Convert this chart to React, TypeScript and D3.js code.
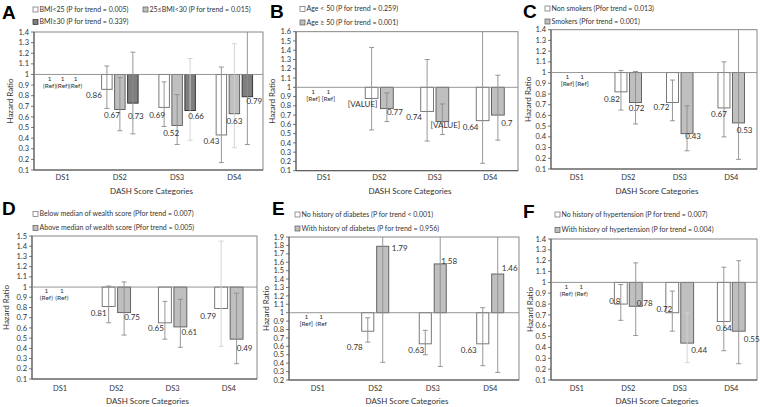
import React, { useEffect } from 'react';
import * as d3 from 'd3';

const categories = ['DS1', 'DS2', 'DS3', 'DS4'];

// ---- Panel A
const aNames = ['BMI<25 (P for trend = 0.005)', '25≤BMI<30 (P for trend = 0.015)', 'BMI≥30 (P for trend = 0.339)'];
const aHR = [[1, 0.86, 0.69, 0.43], [1, 0.67, 0.52, 0.63], [1, 0.73, 0.66, 0.79]];
const aLow = [[1, 0.68, 0.51, 0.17], [1, 0.47, 0.34, 0.31], [1, 0.44, 0.38, 0.34]];
const aHigh = [[1, 1.08, 0.93, 1.07], [1, 0.97, 0.81, 1.29], [1, 1.21, 1.15, 1.84]];
const aText = [['', '0.86', '0.69', '0.43'], ['', '0.67', '0.52', '0.63'], ['', '0.73', '0.66', '0.79']];

// ---- Panel B
const bNames = ['Age < 50 (P for trend = 0.259)', 'Age ≥ 50 (P for trend = 0.001)'];
const bHR = [[1, 0.88, 0.74, 0.64], [1, 0.77, 0.63, 0.7]];
const bLow = [[1, 0.54, 0.42, 0.18], [1, 0.63, 0.49, 0.43]];
const bHigh = [[1, 1.43, 1.3, 2.28], [1, 0.94, 0.82, 1.13]];
const bText = [['', '[VALUE]', '0.74', '0.64'], ['', '0.77', '[VALUE]', '0.7']];

// ---- Panel C
const cNames = ['Non smokers (Pfor trend = 0.013)', 'Smokers (Pfor trend = 0.001)'];
const cHR = [[1, 0.82, 0.72, 0.67], [1, 0.72, 0.43, 0.53]];
const cLow = [[1, 0.65, 0.55, 0.4], [1, 0.52, 0.27, 0.19]];
const cHigh = [[1, 1.02, 0.93, 1.1], [1, 1.01, 0.69, 1.48]];
const cText = [['', '0.82', '0.72', '0.67'], ['', '0.72', '0.43', '0.53']];

// ---- Panel D
const dNames = ['Below median of wealth score (Pfor trend = 0.007)', 'Above median of wealth score (Pfor trend = 0.005)'];
const dHR = [[1, 0.81, 0.65, 0.79], [1, 0.75, 0.61, 0.49]];
const dLow = [[1, 0.65, 0.49, 0.42], [1, 0.53, 0.41, 0.25]];
const dHigh = [[1, 1.01, 0.86, 1.45], [1, 1.05, 0.88, 0.94]];
const dText = [['', '0.81', '0.65', '0.79'], ['', '0.75', '0.61', '0.49']];

// ---- Panel E
const eNames = ['No history of diabetes (P for trend < 0.001)', 'With history of diabetes (P for trend = 0.956)'];
const eHR = [[1, 0.78, 0.63, 0.63], [1, 1.79, 1.58, 1.46]];
const eLow = [[1, 0.65, 0.5, 0.37], [1, 0.41, 0.36, 0.29]];
const eHigh = [[1, 0.94, 0.79, 1.06], [1, 7.8, 6.9, 7.3]];
const eText = [['', '0.78', '0.63', '0.63'], ['', '1.79', '1.58', '1.46']];

// ---- Panel F
const fNames = ['No history of hypertension (P for trend = 0.007)', 'With history of hypertension (P for trend = 0.004)'];
const fHR = [[1, 0.8, 0.72, 0.64], [1, 0.78, 0.44, 0.55]];
const fLow = [[1, 0.65, 0.55, 0.37], [1, 0.51, 0.26, 0.25]];
const fHigh = [[1, 0.98, 0.92, 1.14], [1, 1.18, 0.72, 1.2]];
const fText = [['', '0.8', '0.72', '0.64'], ['', '0.78', '0.44', '0.55']];

const FONT = 'Lato, "Open Sans", "DejaVu Sans", sans-serif';
const FILLS = ['#ffffff', '#bfbfbf', '#7f7f7f'];
const STROKES = ['#6b6b6b', '#595959', '#2b2b2b'];

type P = {
  letter: string; letterXY: [number, number];
  box: [number, number, number, number];
  domain: [number, number];
  names: string[]; legendXY: [number, number][];
  hr: number[][]; low: number[][]; high: number[][]; text: string[][];
  refs: string[]; barFrac: number; gapFrac: number;
  shift: [number, number][][]; // label offsets (dx from bar centre, dy from bar end)
  lightErr: string[]; // "series-cat"
  yTitleX: number; catY: number; titleY: number; refDx: number;
};

const panels: P[] = [
  {
    letter: 'A', letterXY: [2, 19], box: [34, 263, 32, 170], domain: [0.1, 1.4],
    names: aNames, legendXY: [[33, 9.5], [143, 9.5], [33, 22]],
    hr: aHR, low: aLow, high: aHigh, text: aText, refs: ['(Ref)', '(Ref)', '(Ref)'],
    barFrac: 0.183, gapFrac: 0.044,
    shift: [[[0, 0], [-13, 6], [-7, 8], [-10, 6]], [[0, 0], [-8, 6], [-6, 8], [0, 7]], [[0, 0], [3, 13], [6, 6], [7, 4]]],
    lightErr: ['2-2', '1-3'], yTitleX: 10, catY: 180, titleY: 194, refDx: 0,
  },
  {
    letter: 'B', letterXY: [270, 18], box: [296, 518, 31.7, 170.7], domain: [0.1, 1.6],
    names: bNames, legendXY: [[300, 9], [300, 22.5]],
    hr: bHR, low: bLow, high: bHigh, text: bText, refs: ['[Ref]', '[Ref]'],
    barFrac: 0.23, gapFrac: 0.045,
    shift: [[[0, 0], [-9, 6], [-13, 6], [-12, 7]], [[0, 0], [8, 4], [3, 4], [9, 8]]],
    lightErr: [], yTitleX: 272, catY: 180, titleY: 194, refDx: -3,
  },
  {
    letter: 'C', letterXY: [523, 18], box: [551, 757, 29.7, 169], domain: [0.1, 1.4],
    names: cNames, legendXY: [[545, 8.5], [545, 21.5]],
    hr: cHR, low: cLow, high: cHigh, text: cText, refs: ['[Ref]', '[Ref]'],
    barFrac: 0.233, gapFrac: 0.05,
    shift: [[[0, 0], [-9, 7], [-11, 5], [-5, 6]], [[0, 0], [1, 6], [6, 3], [6, 7]]],
    lightErr: [], yTitleX: 528, catY: 180, titleY: 194, refDx: -2,
  },
  {
    letter: 'D', letterXY: [2, 215], box: [32, 257, 236, 379], domain: [0.1, 1.5],
    names: dNames, legendXY: [[33, 214], [33, 228]],
    hr: dHR, low: dLow, high: dHigh, text: dText, refs: ['(Ref)', '(Ref)'],
    barFrac: 0.23, gapFrac: 0.045,
    shift: [[[0, 0], [-10, 7], [-9, 5], [-13, 8]], [[0, 0], [8, 5], [9, 5], [8, 9]]],
    lightErr: ['0-3'], yTitleX: 6, catY: 391, titleY: 404, refDx: -6,
  },
  {
    letter: 'E', letterXY: [272, 215], box: [289, 519, 237, 380], domain: [0.2, 1.9],
    names: eNames, legendXY: [[295, 214.5], [295, 228.5]],
    hr: eHR, low: eLow, high: eHigh, text: eText, refs: ['[Ref]', '(Ref'],
    barFrac: 0.21, gapFrac: 0.05,
    shift: [[[0, 0], [-13, 16], [-9, 6], [-14, 6]], [[0, 0], [17, 2], [9, -3], [12, -6]]],
    lightErr: [], yTitleX: 266, catY: 391, titleY: 404, refDx: -4,
  },
  {
    letter: 'F', letterXY: [523, 218], box: [551, 757, 239, 380], domain: [0.1, 1.4],
    names: fNames, legendXY: [[555, 214.5], [555, 230]],
    hr: fHR, low: fLow, high: fHigh, text: fText, refs: ['(Ref)', '(Ref)'],
    barFrac: 0.25, gapFrac: 0.04,
    shift: [[[0, 0], [-6, -3], [-8, -4], [0, 7]], [[0, 0], [9, -3], [12, 7], [13, 8]]],
    lightErr: ['1-2'], yTitleX: 530, catY: 391, titleY: 404, refDx: -3,
  },
];

function Panel({ p, idx }: { p: P; idx: number }) {
  const [x0, x1, y0, y1] = p.box;
  const y = d3.scaleLinear().domain(p.domain).range([y1, y0]);
  const xb = d3.scaleBand<string>().domain(categories).range([x0, x1]).padding(0);
  const n = p.hr.length;
  const band = xb.bandwidth();
  const barW = band * p.barFrac;
  const gap = band * p.gapFrac;
  const groupW = n * barW + (n - 1) * gap;
  const xs = d3.scaleBand<number>().domain(d3.range(n)).range([-groupW / 2, groupW / 2])
    .paddingInner(gap / (barW + gap)).paddingOuter(0);
  const lo = Math.round(p.domain[0] * 10);
  const hi = Math.round(p.domain[1] * 10);
  const ticks = d3.range(lo, hi + 1).map((v) => v / 10);
  const fillIdx = (s: number) => (n === 3 ? s : s === 0 ? 0 : 1);
  const base = y(1);
  const clipId = `clip${idx}`;
  const cx = (x0 + x1) / 2;
  const cy = (y0 + y1) / 2;
  return (
    <g fontFamily={FONT}>
      <defs>
        <clipPath id={clipId}>
          <rect x={x0} y={y0} width={x1 - x0} height={y1 - y0} />
        </clipPath>
      </defs>
      <text x={p.letterXY[0]} y={p.letterXY[1]} fontFamily="Liberation Sans, Arial, sans-serif" fontWeight="bold" fontSize={19} fill="#000">{p.letter}</text>
      {p.names.map((nm, s) => (
        <g key={nm}>
          <rect x={p.legendXY[s][0]} y={p.legendXY[s][1] - 2.5} width={5} height={5} fill={FILLS[fillIdx(s)]} stroke={STROKES[fillIdx(s)]} strokeWidth={0.7} />
          <text x={p.legendXY[s][0] + 6.5} y={p.legendXY[s][1]} dy="0.35em" fontSize={7} fill="#333">{nm}</text>
        </g>
      ))}
      {/* plot frame */}
      <rect x={x0} y={y0} width={x1 - x0} height={y1 - y0} fill="#fff" stroke="#7a7a7a" strokeWidth={0.9} />
      {/* y axis */}
      <line x1={x0} x2={x0} y1={y0} y2={y1} stroke="#555" strokeWidth={1} />
      <line x1={x0} x2={x1} y1={y1} y2={y1} stroke="#555" strokeWidth={1} />
      {ticks.map((t) => (
        <g key={t}>
          <line x1={x0 - 3} x2={x0} y1={y(t)} y2={y(t)} stroke="#555" strokeWidth={0.8} />
          <text x={x0 - 5} y={y(t)} dy="0.35em" textAnchor="end" fontSize={7.5} fill="#333">{String(+t.toFixed(1))}</text>
        </g>
      ))}
      <text transform={`translate(${p.yTitleX},${cy}) rotate(-90)`} textAnchor="middle" dy="0.35em" fontSize={8} fill="#333">Hazard Ratio</text>
      {categories.map((c) => (
        <text key={c} x={(xb(c) as number) + band / 2} y={p.catY} textAnchor="middle" fontSize={7.5} fill="#333">{c}</text>
      ))}
      <text x={cx + 3} y={p.titleY} textAnchor="middle" fontSize={8} fill="#333">DASH Score Categories</text>
      {/* bars */}
      <g clipPath={`url(#${clipId})`}>
        {p.hr.map((row, s) => row.map((v, i) => {
          const bx = (xb(categories[i]) as number) + band / 2 + (xs(s) as number);
          const top = Math.min(y(v), base);
          const h = Math.abs(y(v) - base);
          if (i === 0) return null;
          return <rect key={`${s}-${i}`} x={bx} y={top} width={barW} height={h} fill={FILLS[fillIdx(s)]} stroke={STROKES[fillIdx(s)]} strokeWidth={0.9} />;
        }))}
        <line x1={x0} x2={x1} y1={base} y2={base} stroke="#8a8a8a" strokeWidth={0.9} />
        {p.hr.map((row, s) => row.map((v, i) => {
          if (i === 0) return null;
          const bc = (xb(categories[i]) as number) + band / 2 + (xs(s) as number) + barW / 2;
          const light = p.lightErr.includes(`${s}-${i}`);
          const col = light ? '#d0d0d0' : '#8c8c8c';
          const yl = y(p.low[s][i]);
          const yh = y(p.high[s][i]);
          return (
            <g key={`e${s}-${i}`} stroke={col} strokeWidth={0.9}>
              <line x1={bc} x2={bc} y1={yl} y2={yh} />
              <line x1={bc - 2.5} x2={bc + 2.5} y1={yl} y2={yl} />
              <line x1={bc - 2.5} x2={bc + 2.5} y1={yh} y2={yh} />
            </g>
          );
        }))}
      </g>
      {/* labels */}
      {p.hr.map((row, s) => row.map((v, i) => {
        const bc = (xb(categories[i]) as number) + band / 2 + (xs(s) as number) + barW / 2;
        if (i === 0) {
          return (
            <g key={`r${s}`} fontSize={6.5} fill="#333" textAnchor="middle">
              <text x={bc + p.refDx} y={base + 4} dy="0.35em">1</text>
              <text x={bc + p.refDx} y={base + 11} dy="0.35em">{p.refs[s]}</text>
            </g>
          );
        }
        const [dx, dy] = p.shift[s][i];
        return (
          <text key={`l${s}-${i}`} x={bc + dx} y={y(v) + dy} dy="0.35em" textAnchor="middle" fontSize={8} fill="#333">{p.text[s][i]}</text>
        );
      }))}
    </g>
  );
}

export default function App() {
  useEffect(() => {
    document.body.style.margin = '0';
  }, []);
  return (
    <svg width={760} height={407} viewBox="0 0 760 407" style={{ display: 'block', background: '#fff' }}>
      <rect width={760} height={407} fill="#fff" />
      {panels.map((p, i) => <Panel key={p.letter} p={p} idx={i} />)}
    </svg>
  );
}
